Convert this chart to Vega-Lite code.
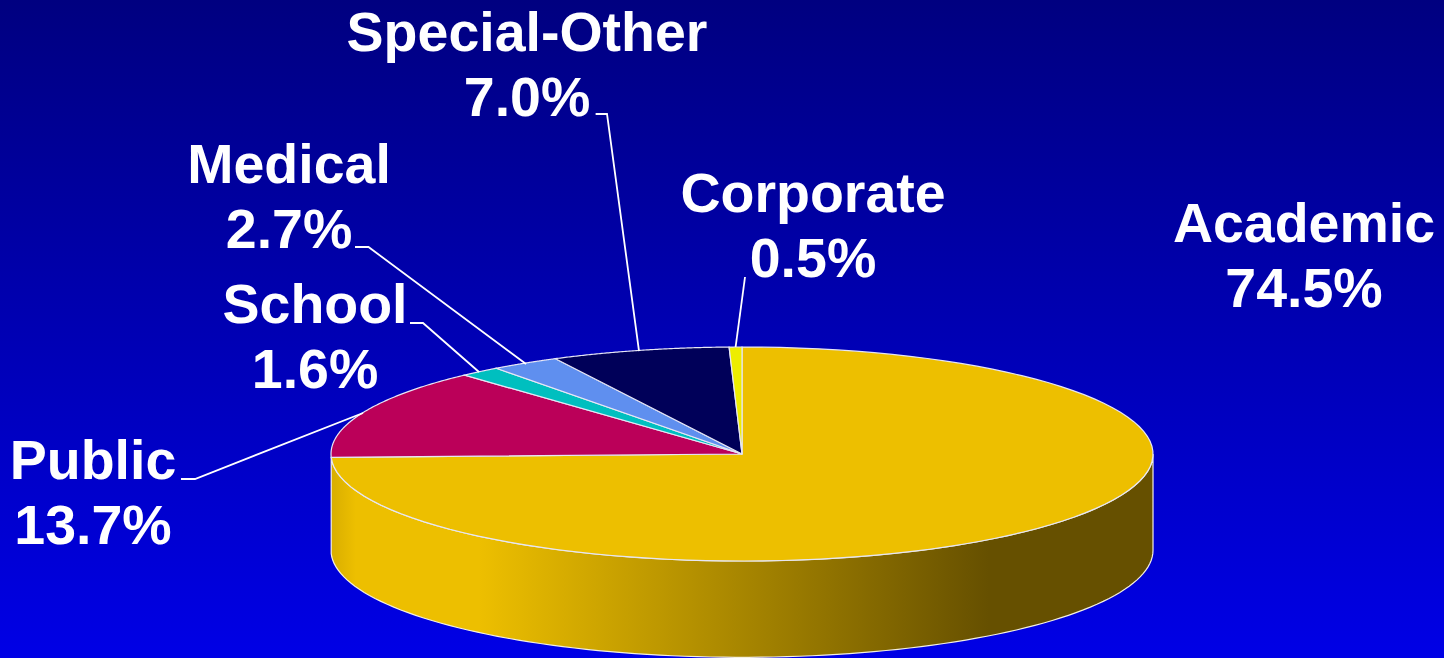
{
  "$schema": "https://vega.github.io/schema/vega-lite/v6.json",
  "width": 1444,
  "height": 658,
  "padding": 0,
  "autosize": {"type": "none"},
  "config": {"view": {"stroke": null}},
  "datasets": {
    "slices": [
      {"category": "Academic", "share": 74.5},
      {"category": "Public", "share": 13.7},
      {"category": "School", "share": 1.6},
      {"category": "Medical", "share": 2.7},
      {"category": "Special-Other", "share": 7.0},
      {"category": "Corporate", "share": 0.5}
    ]
  },
  "data": {"name": "slices"},
  "transform": [
    {"window": [{"op": "sum", "field": "share", "as": "cum"}], "frame": [null, 0]}
  ],
  "encoding": {
    "x": {"type": "quantitative", "scale": {"domain": [-1.8054, 1.708], "nice": false, "zero": false}, "axis": null},
    "y": {"type": "quantitative", "scale": {"domain": [-1.9065, 4.243], "nice": false, "zero": false}, "axis": null}
  },
  "layer": [
    {
      "transform": [{"filter": "datum.category === 'Academic'"}],
      "mark": {
        "type": "rect",
        "fill": {
          "gradient": "linear", "x1": 0, "y1": 0, "x2": 0, "y2": 1,
          "stops": [{"offset": 0, "color": "#000080"}, {"offset": 1, "color": "#0000E6"}]
        }
      },
      "encoding": {
        "x": {"datum": -1.8054},
        "x2": {"datum": 1.708},
        "y": {"datum": 4.243},
        "y2": {"datum": -1.9065}
      }
    },
    {
      "transform": [
        {"filter": "datum.category === 'Academic'"},
        {"calculate": "sequence(0, 101)", "as": "step"},
        {"flatten": ["step"]},
        {"calculate": "PI / 2 + (datum.step / 100) * (2 * PI * datum.share / 100 - PI / 2)", "as": "angle"},
        {"calculate": "sin(datum.angle)", "as": "rimX"},
        {"calculate": "cos(datum.angle)", "as": "rimY"},
        {"calculate": "cos(datum.angle) - 0.9", "as": "rimBottom"}
      ],
      "mark": {
        "type": "area",
        "stroke": "#F4F0E0",
        "strokeWidth": 1.2,
        "fill": {
          "gradient": "linear", "x1": 0, "y1": 0, "x2": 1, "y2": 0,
          "stops": [
            {"offset": 0, "color": "#D8AE00"},
            {"offset": 0.03, "color": "#EDBF00"},
            {"offset": 0.18, "color": "#EDBF00"},
            {"offset": 0.8, "color": "#665000"},
            {"offset": 1, "color": "#665000"}
          ]
        }
      },
      "encoding": {
        "x": {"field": "rimX"},
        "y": {"field": "rimY"},
        "y2": {"field": "rimBottom"}
      }
    },
    {
      "transform": [
        {"calculate": "sequence(-1, 101)", "as": "step"},
        {"flatten": ["step"]},
        {"calculate": "2 * PI * (datum.cum - datum.share * (1 - datum.step / 100)) / 100", "as": "angle"},
        {"calculate": "datum.step < 0 ? 0 : sin(datum.angle)", "as": "edgeX"},
        {"calculate": "datum.step < 0 ? 0 : cos(datum.angle)", "as": "edgeY"}
      ],
      "mark": {"type": "line", "interpolate": "linear-closed", "stroke": "#E6E6F5", "strokeWidth": 1.2},
      "encoding": {
        "x": {"field": "edgeX"},
        "y": {"field": "edgeY"},
        "order": {"field": "step", "type": "quantitative"},
        "fill": {
          "field": "category",
          "type": "nominal",
          "legend": null,
          "scale": {
            "domain": ["Academic", "Public", "School", "Medical", "Special-Other", "Corporate"],
            "range": ["#EDBF00", "#BB0059", "#00BFBF", "#5F8FEF", "#000059", "#EDED00"]
          }
        }
      }
    },
    {
      "transform": [
        {"filter": "datum.category !== 'Academic'"},
        {"calculate": "sequence(0, 3)", "as": "leg"},
        {"flatten": ["leg"]},
        {"calculate": "{'Public': [-1.3651, -1.3309, -0.9221], 'School': [-0.8078, -0.7762, -0.6399], 'Medical': [-0.9416, -0.9088, -0.5255], 'Special-Other': [-0.3562, -0.3285, -0.2506], 'Corporate': [0.0073, 0.0073, -0.0156]}[datum.category][datum.leg]", "as": "leaderX"},
        {"calculate": "{'Public': [-0.2336, -0.2336, 0.3832], 'School': [1.2243, 1.2243, 0.7664], 'Medical': [1.9346, 1.9346, 0.8411], 'Special-Other': [3.1776, 3.1776, 0.9626], 'Corporate': [1.6542, 1.6542, 1.0]}[datum.category][datum.leg]", "as": "leaderY"}
      ],
      "mark": {"type": "line", "stroke": "#FFFFFF", "strokeWidth": 1.8},
      "encoding": {
        "x": {"field": "leaderX"},
        "y": {"field": "leaderY"},
        "detail": {"field": "category"},
        "order": {"field": "leg", "type": "quantitative"}
      }
    },
    {
      "transform": [
        {"calculate": "datum.category + '\\n' + format(datum.share, '.1f') + '%'", "as": "label"},
        {"calculate": "{'Academic': 1.3674, 'Public': -1.5791, 'School': -1.0389, 'Medical': -1.1022, 'Special-Other': -0.5231, 'Corporate': 0.1727}[datum.category]", "as": "labelX"},
        {"calculate": "{'Academic': 1.981, 'Public': -0.2336, 'School': 1.2247, 'Medical': 2.5327, 'Special-Other': 3.766, 'Corporate': 2.262}[datum.category]", "as": "labelY"}
      ],
      "mark": {
        "type": "text",
        "font": "Liberation Sans",
        "fontWeight": "bold",
        "fontSize": 55.5,
        "lineHeight": 65,
        "lineBreak": "\n",
        "align": "center",
        "baseline": "alphabetic",
        "color": "#FFFFFF"
      },
      "encoding": {
        "x": {"field": "labelX"},
        "y": {"field": "labelY"},
        "text": {"field": "label"}
      }
    }
  ]
}
